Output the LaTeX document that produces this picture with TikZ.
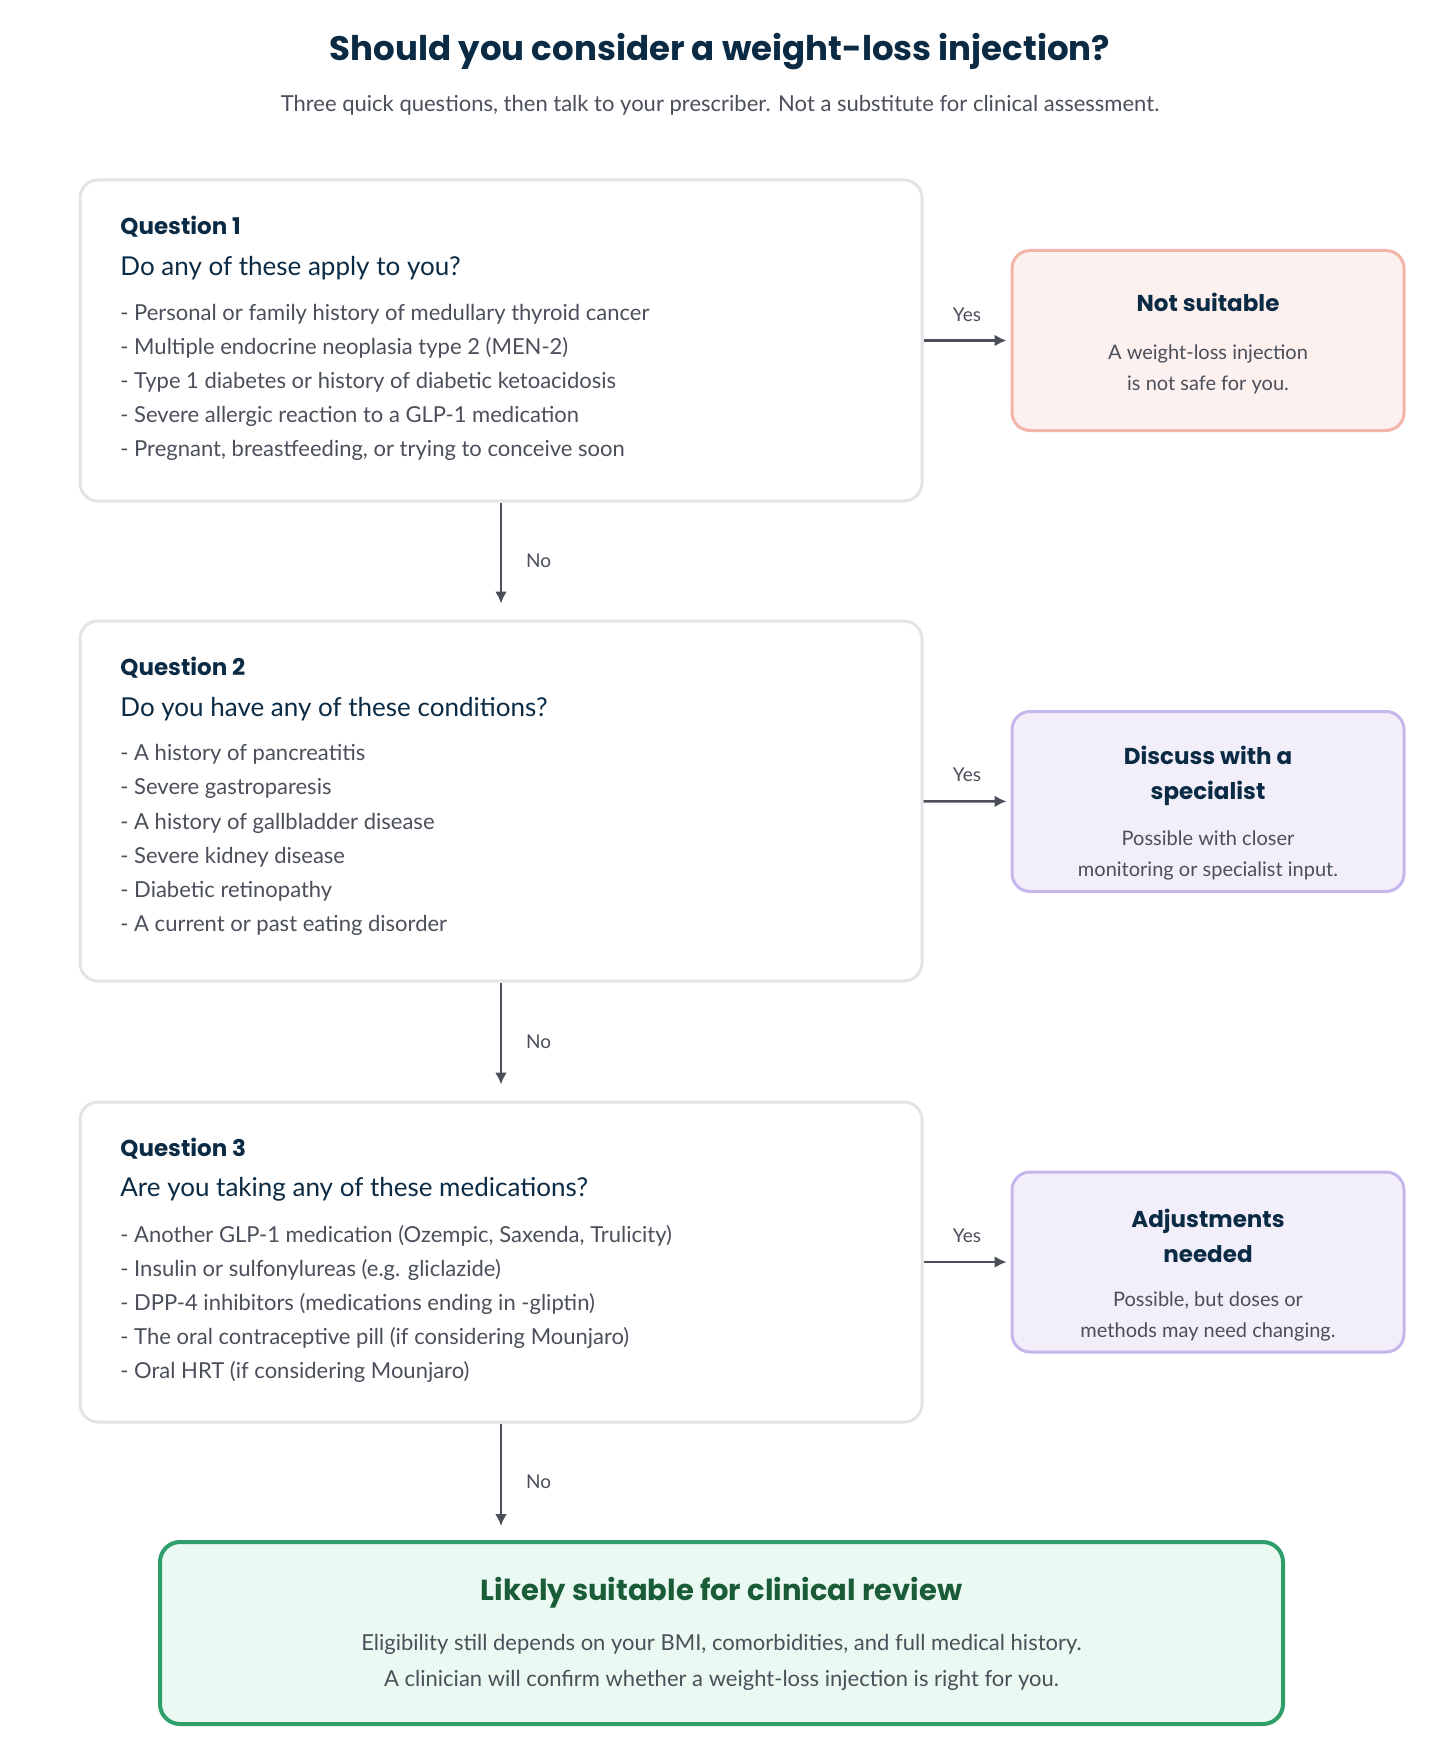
\documentclass[tikz,border=0pt]{standalone}
\usepackage{fontspec}
\setmainfont{Lato}
\newfontfamily\headfont{Poppins}
\usetikzlibrary{positioning}
\usetikzlibrary{arrows.meta}
\definecolor{navy}{HTML}{0B2B45}
\definecolor{bodygray}{HTML}{4A4F5A}
\definecolor{arrowgray}{HTML}{4A4F5A}
\definecolor{qborder}{HTML}{E4E4E6}
\definecolor{redfill}{HTML}{FDF1EF}
\definecolor{redline}{HTML}{F4B4AA}
\definecolor{purfill}{HTML}{F2EFFB}
\definecolor{purline}{HTML}{C5B7EE}
\definecolor{grnfill}{HTML}{EAFAF2}
\definecolor{grnline}{HTML}{2E9E6A}
\definecolor{grntext}{HTML}{1B5C38}
\tikzset{qbox/.style = {draw=qborder, line width=1.5pt, rounded corners=9pt, fill=white,
                        minimum width=421pt, minimum height=160pt, inner sep=0}}
\tikzset{rbox/.style = {line width=1.5pt, rounded corners=9pt,
                        minimum width=196pt, minimum height=90pt, inner sep=0}}
\tikzset{qnum/.style = {anchor=west, inner sep=0, text=navy, font=\headfont\bfseries\fontsize{11.5}{14}\selectfont}}
\tikzset{qhead/.style = {anchor=west, inner sep=0, text=navy, font=\fontsize{13}{16}\selectfont}}
\tikzset{item/.style = {anchor=west, inner sep=0, text=bodygray, font=\fontsize{11}{14}\selectfont}}
\tikzset{rtitle/.style = {inner sep=0, text=navy, align=center, font=\headfont\bfseries\fontsize{11.5}{17.5}\selectfont}}
\tikzset{rtext/.style = {inner sep=0, text=bodygray, align=center, font=\fontsize{10}{15.5}\selectfont}}
\tikzset{arr/.style = {draw=arrowgray, line width=1.2pt, -{Latex[length=6pt,width=6pt]}}}
\tikzset{lbl/.style = {inner sep=0, text=bodygray, font=\fontsize{9.5}{12}\selectfont}}

\begin{document}
\begin{tikzpicture}[x=0.5pt, y=-0.5pt]
  \useasboundingbox[fill=white] (0, 0) rectangle (1440, 1760);

  % title
  \node [inner sep=0, text=navy, font=\headfont\bfseries\fontsize{17}{20}\selectfont] (title) at (720, 52) {Should you consider a weight-loss injection?};
  \node [inner sep=0, text=bodygray, font=\fontsize{11}{14}\selectfont] (sub) at (720, 105) {Three quick questions, then talk to your prescriber. Not a substitute for clinical assessment.};

  % question boxes
  \node [qbox, minimum height=160.5pt] (q1) at (501, 340.5) {};
  \node [qbox, minimum height=180pt] (q2) at (501, 801) {};
  \node [qbox, minimum height=160pt] (q3) at (501, 1262) {};

  % outcome boxes
  \node [rbox, draw=redline, fill=redfill] (r1) at (1208, 340.5) {};
  \node [rbox, draw=purline, fill=purfill] (r2) at (1208, 801.5) {};
  \node [rbox, draw=purline, fill=purfill] (r3) at (1208, 1262) {};
  \node [draw=grnline, line width=2pt, rounded corners=10pt, fill=grnfill,
         minimum width=561.5pt, minimum height=91pt, inner sep=0] (fin) at (721.5, 1633) {};

  % question 1
  \node [qnum] (q1n) at (120, 227) {Question 1};
  \node [qhead] (q1h) at (120, 268) {Do any of these apply to you?};
  \foreach \t [count=\i] in {Personal or family history of medullary thyroid cancer,
                             Multiple endocrine neoplasia type 2 (MEN-2),
                             Type 1 diabetes or history of diabetic ketoacidosis,
                             Severe allergic reaction to a GLP-1 medication,
                             {Pregnant, breastfeeding, or trying to conceive soon}}
    \node [item] (q1i\i) at (120, 280 + 34*\i) {- \t};

  % question 2
  \node [qnum] (q2n) at (120, 668) {Question 2};
  \node [qhead] (q2h) at (120, 709) {Do you have any of these conditions?};
  \foreach \t [count=\i] in {A history of pancreatitis, Severe gastroparesis,
                             A history of gallbladder disease, Severe kidney disease,
                             Diabetic retinopathy, A current or past eating disorder}
    \node [item] (q2i\i) at (120, 720.5 + 34.2*\i) {- \t};

  % question 3
  \node [qnum] (q3n) at (120, 1149) {Question 3};
  \node [qhead] (q3h) at (120, 1189) {Are you taking any of these medications?};
  \foreach \t [count=\i] in {{Another GLP-1 medication (Ozempic, Saxenda, Trulicity)},
                             Insulin or sulfonylureas (e.g. gliclazide),
                             DPP-4 inhibitors (medications ending in -gliptin),
                             The oral contraceptive pill (if considering Mounjaro),
                             Oral HRT (if considering Mounjaro)}
    \node [item] (q3i\i) at (120, 1202 + 34*\i) {- \t};

  % outcomes
  \node [rtitle] (r1t) at (1208, 302) {Not suitable};
  \node [rtext] (r1x) at (1208, 369) {A weight-loss injection\\is not safe for you.};
  \node [rtitle] (r2t) at (1208, 776) {Discuss with a\\specialist};
  \node [rtext] (r2x) at (1208, 855) {Possible with closer\\monitoring or specialist input.};
  \node [rtitle] (r3t) at (1208, 1236) {Adjustments\\needed};
  \node [rtext] (r3x) at (1208, 1316) {Possible, but doses or\\methods may need changing.};
  \node [inner sep=0, text=grntext, font=\headfont\bfseries\fontsize{14.5}{18}\selectfont] (fint) at (721.5, 1593) {Likely suitable for clinical review};
  \node [inner sep=0, text=bodygray, align=center, font=\fontsize{11}{18}\selectfont] (finx) at (721.5, 1662) {Eligibility still depends on your BMI, comorbidities, and full medical history.\\A clinician will confirm whether a weight-loss injection is right for you.};

  % connectors
  \draw [arr, shorten >=2pt] (q1) -- node [lbl, above=9pt] {Yes} (r1);
  \draw [arr, shorten >=2pt] (q2) -- node [lbl, above=9pt] {Yes} (r2);
  \draw [arr, shorten >=2pt] (q3) -- node [lbl, above=9pt] {Yes} (r3);
  \draw [arr, shorten >=8pt] (q1) -- node [lbl, right=12pt] {No} (q2);
  \draw [arr, shorten >=8pt] (q2) -- node [lbl, right=12pt] {No} (q3);
  \draw [arr, shorten >=7pt] (q3.south) -- node [lbl, right=12pt] {No} (q3.south |- fin.north);
\end{tikzpicture}
\end{document}
